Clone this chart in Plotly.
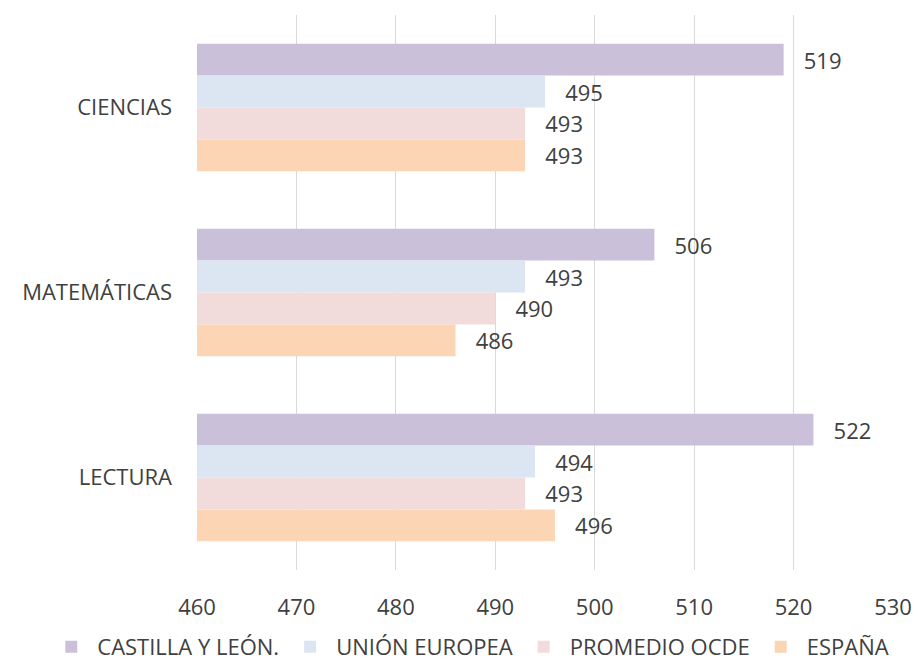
import plotly.graph_objects as go

categories = ["CIENCIAS", "MATEMÁTICAS", "LECTURA"]
series_names = ["CASTILLA Y LEÓN.", "UNIÓN EUROPEA", "PROMEDIO OCDE", "ESPAÑA"]
castilla = [519, 506, 522]
ue = [495, 493, 494]
ocde = [493, 490, 493]
espana = [493, 486, 496]
x_ticks = [460, 470, 480, 490, 500, 510, 520, 530]

colors = ["#CBC0DA", "#DCE6F2", "#F2DCDB", "#FCD5B5"]
values = [castilla, ue, ocde, espana]
FONT = "Open Sans"
TXT = "#404040"
FS = 22

fig = go.Figure()
for name, vals, col in zip(series_names, values, colors):
    fig.add_trace(go.Bar(
        y=categories, x=vals, name=name, orientation="h",
        marker=dict(color=col, line=dict(width=0)),
        text=[str(v) for v in vals], texttemplate="   %{text}", textposition="outside",
        textfont=dict(color=TXT, size=FS, family=FONT),
        cliponaxis=False,
    ))

# the page body adds an 8px margin on each side, so the figure is 16px smaller
fig.update_layout(
    width=905, height=656,
    margin=dict(l=189, r=20, t=7, b=94, autoexpand=False),
    paper_bgcolor="white", plot_bgcolor="white",
    barmode="group", bargap=0.31, bargroupgap=0,
    font=dict(family=FONT, size=FS, color=TXT),
    showlegend=True,
    legend=dict(orientation="h", x=-0.218, xanchor="left", y=-0.101, yanchor="top",
                font=dict(size=FS, color=TXT), itemwidth=42, traceorder="normal",
                tracegroupgap=0),
    uniformtext=dict(mode=False),
)
fig.update_xaxes(range=[460, 530], tickvals=x_ticks, showgrid=True, gridcolor="#D9D9D9",
                 gridwidth=1, zeroline=False, showline=False, ticks="", automargin=False,
                 ticklabelstandoff=22, tickfont=dict(size=FS, color=TXT))
fig.update_yaxes(autorange="reversed", showgrid=False, showline=False, ticks="", automargin=False,
                 ticklabelstandoff=24, tickfont=dict(size=FS, color=TXT))

fig.write_html("out.html")
